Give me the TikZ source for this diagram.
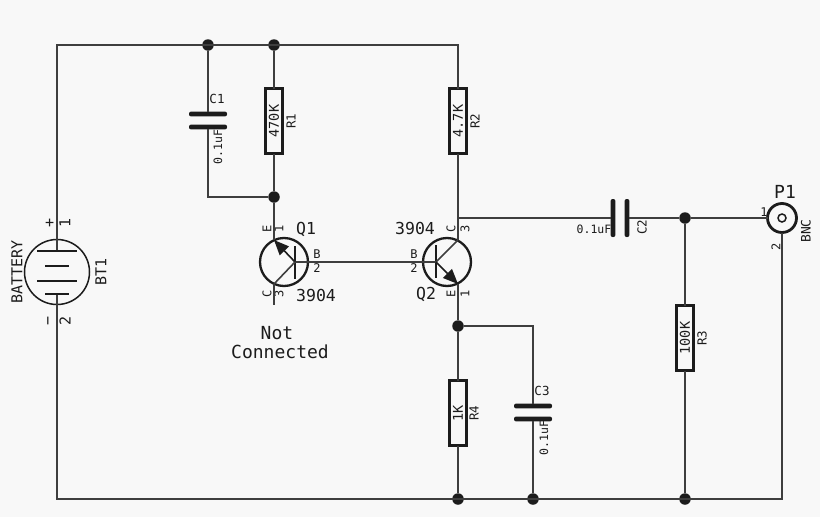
\documentclass[tikz,border=0pt]{standalone}
\usepackage{fontspec}
\setmainfont{DejaVu Sans Mono}
\usetikzlibrary{arrows.meta}
\definecolor{sheet}{HTML}{F8F8F8}
\definecolor{ink}{HTML}{1C1C1C}
\newcommand{\fsize}[1]{\fontsize{#1}{#1}\selectfont}
\begin{document}
\begin{tikzpicture}[
    x=1pt, y=-1pt,
    every node/.style={inner sep=0pt, outer sep=0pt, text=ink},
    wire/.style={draw=ink!85!white, line width=1.6pt},
    dot/.style={circle, fill=ink, minimum size=11.5pt},
    resistor/.style={rectangle, draw=ink, line width=2.3pt, fill=sheet, minimum width=17pt, minimum height=65pt},
    platev/.style={rectangle, rounded corners=2pt, fill=ink, minimum width=38pt, minimum height=4.8pt},
    plateh/.style={rectangle, rounded corners=2pt, fill=ink, minimum width=4.8pt, minimum height=38pt},
    ring/.style={circle, draw=ink, line width=2.3pt, minimum size=48pt},
    bar/.style={rectangle, fill=ink, minimum width=2.3pt, minimum height=33pt},
    longcell/.style={rectangle, fill=ink, minimum width=40pt, minimum height=1.4pt},
    shortcell/.style={rectangle, fill=ink, minimum width=24pt, minimum height=1.4pt},
    pin/.style={font=\fsize{12}},
    val/.style={font=\fsize{11.5}, rotate=90},
    refr/.style={font=\fsize{12.5}, rotate=90},
    vallarge/.style={font=\fsize{13.5}, rotate=90},
    big/.style={font=\fsize{16.5}},
    emitter/.style={draw=ink, line width=1.6pt, -{Triangle[length=15pt,width=12.5pt]}}
]

\path[fill=sheet] (0,0) rectangle (820,517);
\useasboundingbox (0,0) rectangle (820,517);

% Corners and junctions
\coordinate (tl) at (57,45);
\coordinate (tr) at (458,45);
\coordinate (bl) at (57,499);
\coordinate (br) at (782,499);
\coordinate (c1corner) at (208,197);
\coordinate (c3corner) at (533,326);
\coordinate (q2c218) at (458,218);
\node (jc1) [dot] at (208,45) {};
\node (jr1) [dot] at (274,45) {};
\node (jq1) [dot] at (274,197) {};
\node (jq2) [dot] at (458,326) {};
\node (jr4) [dot] at (458,499) {};
\node (jc3) [dot] at (533,499) {};
\node (jr3) [dot] at (685,499) {};
\node (jp1) [dot] at (685,218) {};

% Battery
\node (bt) [circle, draw=ink, line width=1.5pt, minimum size=65pt] at (57,272) {};
\node (bt1) [longcell] at (57,251) {};
\node (bt2) [shortcell] at (57,266) {};
\node (bt3) [longcell] at (57,281) {};
\node (bt4) [shortcell] at (57,294) {};
\node (lbatt) [font=\fsize{15}, rotate=90] at (17,272) {BATTERY};
\node (lbt) [font=\fsize{15}, rotate=90] at (101,272) {BT1};
\node (lplus) [font=\fsize{15}, rotate=90] at (50,223) {+};
\node (lbt1) [font=\fsize{15}, rotate=90] at (65,223) {1};
\node (lminus) [font=\fsize{15}, rotate=90] at (50,321) {−};
\node (lbt2) [font=\fsize{15}, rotate=90] at (65,321) {2};

% Top capacitor and resistors
\node (c1a) [platev] at (208,114) {};
\node (c1b) [platev] at (208,127) {};
\node (lc1) [font=\fsize{12.5}] at (217,99) {C1};
\node (vc1) [val] at (218,147) {0.1uF};
\node (r1) [resistor] at (274,121) {};
\node (vr1) [vallarge] at (274,121) {470K};
\node (lr1) [refr] at (291,121) {R1};
\node (r2) [resistor] at (458,121) {};
\node (vr2) [vallarge] at (458,121) {4.7K};
\node (lr2) [refr] at (475,121) {R2};

% Q1
\node (q1) [ring] at (284,262) {};
\node (q1bar) [bar] at (295,262) {};
\coordinate (q1b) at (295,262);
\coordinate (q1e) at (274,240);
\coordinate (q1c) at (274,284);
\coordinate (q1pin) at (274,305);
\node (q1name) [big] at (306,229) {Q1};
\node (q1type) [big] at (316,295) {3904};
\node (q1le) [pin, rotate=90] at (267,229) {E};
\node (q1l1) [pin, rotate=90] at (279,229) {1};
\node (q1lc) [pin, rotate=90] at (267,294) {C};
\node (q1l3) [pin, rotate=90] at (279,294) {3};
\node (q1lb) [pin] at (317,254) {B};
\node (q1l2) [pin] at (317,268) {2};
\node (note) [font=\fsize{18}, align=center] at (280,343) {Not\hspace*{6pt}\\[1pt]Connected};

% Q2
\node (q2) [ring] at (447,262) {};
\node (q2bar) [bar] at (436,261) {};
\coordinate (q2b) at (436,262);
\coordinate (q2c) at (458,240);
\coordinate (q2e) at (458,284);
\node (q2name) [big] at (426,294) {Q2};
\node (q2type) [big] at (415,228) {3904};
\node (q2lc) [pin, rotate=90] at (451,229) {C};
\node (q2l3) [pin, rotate=90] at (465,229) {3};
\node (q2le) [pin, rotate=90] at (451,294) {E};
\node (q2l1) [pin, rotate=90] at (465,294) {1};
\node (q2lb) [pin] at (414,254) {B};
\node (q2l2) [pin] at (414,268) {2};

% Output side
\node (c2a) [plateh] at (613,218) {};
\node (c2b) [plateh] at (627,218) {};
\node (vc2) [font=\fsize{11.5}] at (594,229) {0.1uF};
\node (lc2) [refr] at (642,227) {C2};
\node (r3) [resistor] at (685,338) {};
\node (vr3) [vallarge] at (685,338) {100K};
\node (lr3) [refr] at (702,338) {R3};
\node (p1) [circle, draw=ink, line width=2.8pt, minimum size=29pt] at (782,218) {};
\node (p1core) [circle, draw=ink, line width=1.5pt, minimum size=8pt] at (782,218) {};
\node (lp1) [font=\fsize{18}] at (785,192) {P1};
\node (lp11) [pin] at (764,212) {1};
\node (lp12) [pin, rotate=90] at (776,247) {2};
\node (lbnc) [font=\fsize{13}, rotate=90] at (806,231) {BNC};

% Lower branch
\node (r4) [resistor] at (458,413) {};
\node (vr4) [vallarge] at (458,413) {1K};
\node (lr4) [refr] at (474,413) {R4};
\node (c3a) [platev] at (533,406) {};
\node (c3b) [platev] at (533,419) {};
\node (lc3) [font=\fsize{12.5}] at (542,391) {C3};
\node (vc3) [val] at (544,438) {0.1uF};

% Wires
\draw[wire] (bt1) -- (tl) -- (tr) -- (r2);
\draw[wire] (bt4) -- (bl) -- (br) -- (p1);
\draw[wire] (jc1) -- (c1a);
\draw[wire] (c1b) -- (c1corner) -- (jq1);
\draw[wire] (jr1) -- (r1);
\draw[wire] (r1) -- (jq1);
\draw[wire] (jq1) -- (q1e);
\draw[wire] (q1c) -- (q1pin);
\draw[wire] (q1b) -- (q2b);
\draw[wire] (r2) -- (q2c);
\draw[wire] (q2e) -- (jq2);
\draw[wire] (jq2) -- (r4);
\draw[wire] (r4) -- (jr4);
\draw[wire] (jq2) -- (c3corner) -- (c3a);
\draw[wire] (c3b) -- (jc3);
\draw[wire] (q2c218) -- (c2a);
\draw[wire] (c2b) -- (jp1);
\draw[wire] (jp1) -- (p1);
\draw[wire] (jp1) -- (r3);
\draw[wire] (r3) -- (jr3);

% Transistor legs
\draw[emitter] (q1b) -- (q1e);
\draw[wire] (q1b) -- (q1c);
\draw[wire] (q2b) -- (q2c);
\draw[emitter] (q2b) -- (q2e);

\end{tikzpicture}
\end{document}
